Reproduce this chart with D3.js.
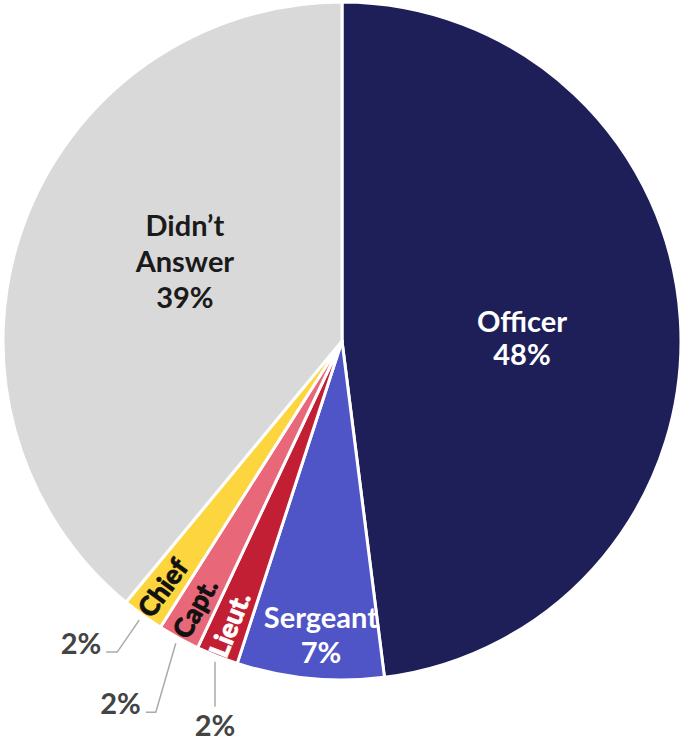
<!DOCTYPE html>
<html>
<head>
<meta charset="utf-8">
<script src="https://cdn.jsdelivr.net/npm/d3@7"></script>
<style>
  html, body { margin: 0; padding: 0; background: #ffffff; }
  svg { display: block; font-family: Lato, "Open Sans", sans-serif; }
</style>
</head>
<body>
<svg id="chart" width="681" height="741"></svg>
<script>
// Survey respondents by rank (percent of all responses)
const categories = ["Officer", "Sergeant", "Lieut.", "Capt.", "Chief", "Didn’t Answer"];
const shares = [48, 7, 2, 2, 2, 39];
const sliceColors = ["#1e1f59", "#4f54c6", "#c21f35", "#e8687a", "#fcd53f", "#d9d9d9"];
const valueLabels = shares.map(v => v + "%");

const width = 681, height = 741;
const cx = 342, cy = 341, R = 339;

const svg = d3.select("#chart");
const g = svg.append("g").attr("transform", `translate(${cx},${cy})`);

const pie = d3.pie().sort(null).value(d => d.value);
const arcs = pie(categories.map((c, i) => ({ name: c, value: shares[i], color: sliceColors[i], label: valueLabels[i] })));

const arc = d3.arc().innerRadius(0).outerRadius(R);

g.selectAll("path.slice")
  .data(arcs)
  .join("path")
  .attr("class", "slice")
  .attr("d", arc)
  .attr("fill", d => d.data.color)
  .attr("stroke", "#ffffff")
  .attr("stroke-width", 3)
  .attr("stroke-linejoin", "round");

// polar helper: angle measured clockwise from 12 o'clock
const polar = (r, a) => [r * Math.sin(a), -r * Math.cos(a)];
const mid = d => (d.startAngle + d.endAngle) / 2;
const deg = Math.PI / 180;

// Label placement for the large slices
const inside = {
  "Officer":       { r: 180, shift: 2.6, lines: ["Officer"], fill: "#ffffff", lh: 33 },
  "Sergeant":      { r: 295, shift: -1.3, lines: ["Sergeant"], fill: "#ffffff", lh: 35 },
  "Didn’t Answer": { r: 176, shift: 7, lines: ["Didn’t", "Answer"], fill: "#1a1a1a", lh: 36 }
};

arcs.filter(d => inside[d.data.name]).forEach(d => {
  const cfg = inside[d.data.name];
  const [x, y] = polar(cfg.r, mid(d) + cfg.shift * deg);
  const lines = cfg.lines.concat([d.data.label]);
  const t = g.append("text")
    .attr("text-anchor", "middle")
    .attr("fill", cfg.fill)
    .attr("font-size", 29)
    .attr("font-weight", 700);
  lines.forEach((s, i) => {
    t.append("tspan")
      .attr("x", x)
      .attr("y", y + (i - (lines.length - 1) / 2) * cfg.lh)
      .attr("dy", "0.36em")
      .text(s);
  });
});

// Rotated names inside the thin slices, with leader lines to their values
const thin = {
  "Lieut.": { fill: "#ffffff", elbow: [0, 45], tail: 0, below: true },
  "Capt.":  { fill: "#111111", elbow: [-20, 69], tail: -10, below: false },
  "Chief":  { fill: "#111111", elbow: [-22, 32], tail: -11, below: false }
};

arcs.filter(d => thin[d.data.name]).forEach(d => {
  const cfg = thin[d.data.name];
  const a = mid(d);
  const [x, y] = polar(305, a);
  g.append("text")
    .attr("transform", `translate(${x},${y}) rotate(${a / deg - 270})`)
    .attr("text-anchor", "middle")
    .attr("dy", "0.36em")
    .attr("fill", cfg.fill)
    .attr("stroke", cfg.fill)
    .attr("stroke-width", 0.7)
    .attr("font-size", 27)
    .attr("font-weight", 900)
    .text(d.data.name);

  const [sx, sy] = polar(R + 6, a);
  const ex = sx + cfg.elbow[0], ey = sy + cfg.elbow[1];
  const tx = ex + cfg.tail;
  g.append("path")
    .attr("d", d3.line()([[sx, sy], [ex, ey], [tx, ey]]))
    .attr("fill", "none")
    .attr("stroke", "#aaaaaa")
    .attr("stroke-width", 1.5);

  const lbl = g.append("text")
    .attr("fill", "#444444")
    .attr("font-size", 29)
    .attr("font-weight", 700)
    .text(d.data.label);
  if (cfg.below) {
    lbl.attr("x", tx).attr("y", ey + 29).attr("text-anchor", "middle");
  } else {
    lbl.attr("x", tx - 5).attr("y", ey + 2).attr("text-anchor", "end");
  }
});
</script>
</body>
</html>
